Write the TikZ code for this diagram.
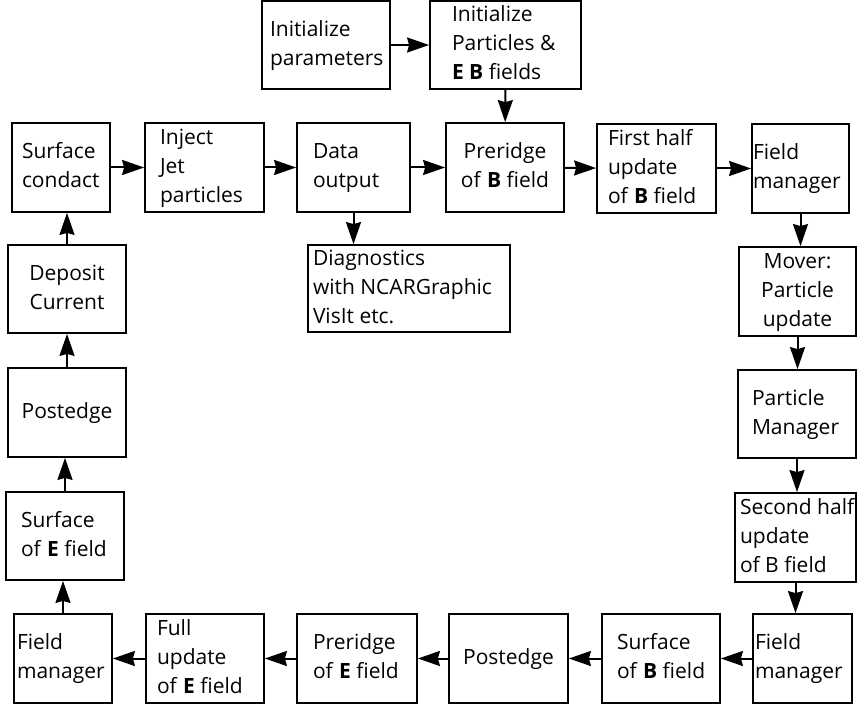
\documentclass[tikz,border=0pt]{standalone}
\usepackage{fontspec}
\setmainfont{Open Sans}
\usetikzlibrary{arrows.meta}
\newcommand{\lbx}[2]{\makebox[#1][l]{\begin{tabular}{@{}l@{}}#2\end{tabular}}}
\newcommand{\cbxt}[2]{\makebox[#1][c]{\begin{tabular}{@{}c@{}}#2\end{tabular}}}
\begin{document}
\begin{tikzpicture}[x=1pt,y=-1pt,
  bx/.style={draw, line width=1.8pt, rectangle, inner ysep=0pt, inner xsep=0pt,
     font={\fontsize{21}{29}\selectfont}},
  arr/.style={line width=2pt, -{Stealth[length=22pt,width=15pt,inset=2pt]}}]
\useasboundingbox (0,0) rectangle (857,706);
% top
\node[bx, minimum width=128pt, minimum height=88pt] (ip) at (326,45) {\hspace*{8pt}\lbx{120pt}{Initialize\\parameters}};
\node[bx, minimum width=151pt, minimum height=88pt] (ipart) at (505.5,45) {\hspace*{22pt}\lbx{129pt}{Initialize\\Particles \&\\\textbf{E B} fields}};
% top row
\node[bx, minimum width=98pt, minimum height=89pt] (sc) at (61,167.5) {\hspace*{10pt}\lbx{88pt}{Surface\\condact}};
\node[bx, minimum width=119pt, minimum height=89pt] (inj) at (204.5,167.5) {\hspace*{15pt}\lbx{104pt}{Inject\\Jet\\particles}};
\node[bx, minimum width=113pt, minimum height=89pt] (dout) at (353.5,167.5) {\hspace*{16pt}\lbx{97pt}{Data\\output}};
\node[bx, minimum width=118pt, minimum height=89pt] (prb) at (505,167.5) {\cbxt{118pt}{Preridge\\of \textbf{B} field}};
\node[bx, minimum width=119pt, minimum height=89pt] (fh) at (656.5,168.5) {\hspace*{11pt}\lbx{108pt}{First half\\update\\of \textbf{B} field}};
\node[bx, minimum width=97pt, minimum height=89pt] (fm1) at (800.5,168.5) {\hspace*{1pt}\lbx{96pt}{Field\\manager}};
% right column
\node[bx, minimum width=117pt, minimum height=89pt] (mov) at (797.5,291.5) {\cbxt{117pt}{Mover:\\Particle\\update}};
\node[bx, minimum width=118pt, minimum height=88pt] (pm) at (797,414) {\hspace*{14pt}\lbx{104pt}{Particle\\Manager}};
\node[bx, minimum width=121pt, minimum height=89pt] (sh) at (795.5,537.5) {\hspace*{5pt}\lbx{116pt}{Second half\\update\\of B field}};
% bottom row
\node[bx, minimum width=99pt, minimum height=89pt] (fm2) at (802.5,658.5) {\hspace*{2pt}\lbx{97pt}{Field\\manager}};
\node[bx, minimum width=118pt, minimum height=89pt] (sb) at (661,658.5) {\hspace*{15pt}\lbx{103pt}{Surface\\of \textbf{B} field}};
\node[bx, minimum width=119pt, minimum height=89pt] (pe1) at (508.5,658.5) {\cbxt{119pt}{Postedge}};
\node[bx, minimum width=120pt, minimum height=89pt] (pre) at (357,658.5) {\hspace*{16pt}\lbx{104pt}{Preridge\\of \textbf{E} field}};
\node[bx, minimum width=118pt, minimum height=89pt] (fu) at (205,658.5) {\hspace*{11pt}\lbx{107pt}{Full\\update\\of \textbf{E} field}};
\node[bx, minimum width=98pt, minimum height=89pt] (fm3) at (63,658.5) {\hspace*{3pt}\lbx{95pt}{Field\\manager}};
% left column
\node[bx, minimum width=118pt, minimum height=88pt] (se) at (65,536) {\hspace*{15pt}\lbx{103pt}{Surface\\of \textbf{E} field}};
\node[bx, minimum width=118pt, minimum height=89pt] (pe2) at (67,412.5) {\cbxt{118pt}{Postedge}};
\node[bx, minimum width=118pt, minimum height=88pt] (dc) at (67,289) {\cbxt{118pt}{Deposit\\Current}};
% diagnostics
\node[bx, minimum width=202pt, minimum height=87pt] (diag) at (409,288.5) {\hspace*{5pt}\lbx{197pt}{Diagnostics\\with NCARGraphic\\VisIt etc.}};
% connectors
\draw[arr] (ip) -- (ipart);
\draw[arr] (ipart) -- (prb);
\draw[arr] (sc) -- (inj);
\draw[arr] (inj) -- (dout);
\draw[arr] (dout) -- (prb);
\draw[arr] (prb) -- (fh);
\draw[arr] (fh) -- (fm1);
\draw[arr] (dout.south) -- (dout.south |- diag.north);
\draw[arr] (fm1.south) -- (fm1.south |- mov.north);
\draw[arr] (mov.south) -- (mov.south |- pm.north);
\draw[arr] (pm.south) -- (pm.south |- sh.north);
\draw[arr] (sh.south) -- (sh.south |- fm2.north);
\draw[arr] (fm2) -- (sb);
\draw[arr] (sb) -- (pe1);
\draw[arr] (pe1) -- (pre);
\draw[arr] (pre) -- (fu);
\draw[arr] (fu) -- (fm3);
\draw[arr] (fm3.north) -- (fm3.north |- se.south);
\draw[arr] (se.north) -- (se.north |- pe2.south);
\draw[arr] (pe2) -- (dc);
\draw[arr] (dc.north) -- (dc.north |- sc.south);
\end{tikzpicture}
\end{document}
